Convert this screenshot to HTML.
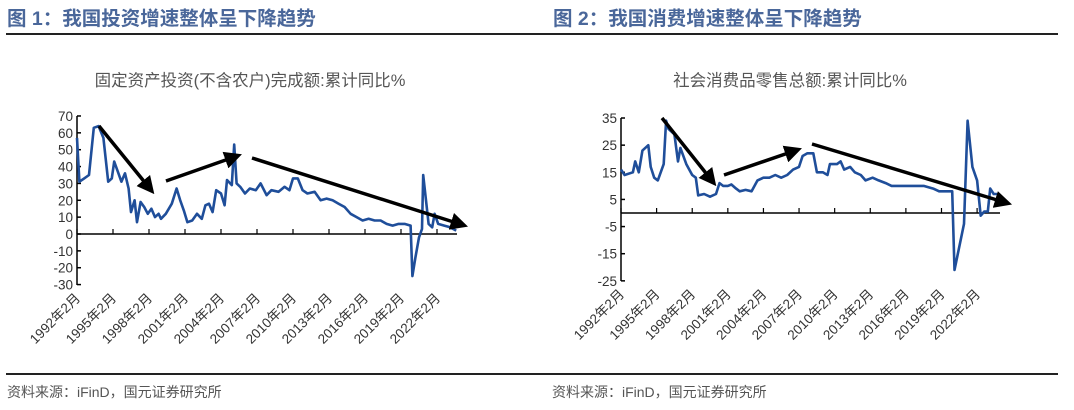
<!DOCTYPE html>
<html><head><meta charset="utf-8"><style>
body{margin:0;background:#fff;width:1074px;height:405px;overflow:hidden;font-family:"Liberation Sans","Noto Sans CJK SC",sans-serif}
</style></head><body>
<svg id="s" width="1074" height="405" xmlns="http://www.w3.org/2000/svg" font-family="Liberation Sans, Noto Sans CJK SC, sans-serif">
<defs><marker id="ah" markerWidth="5" markerHeight="5" refX="3.5" refY="2.5" orient="auto" markerUnits="strokeWidth"><path d="M0,0 L5,2.5 L0,5 z" fill="#000"/></marker></defs>
<g font-weight="bold" font-size="19.5" fill="#4a679a">
<text x="7" y="25">图 1：我国投资增速整体呈下降趋势</text>
<text x="553" y="25">图 2：我国消费增速整体呈下降趋势</text>
</g>
<line x1="6" y1="34" x2="540" y2="34" stroke="#222" stroke-width="2"/>
<line x1="540" y1="34" x2="1058" y2="34" stroke="#222" stroke-width="2"/>
<line x1="6" y1="374" x2="540" y2="374" stroke="#222" stroke-width="2"/>
<line x1="540" y1="374" x2="1058" y2="374" stroke="#222" stroke-width="2"/>
<g font-size="14" fill="#555"><text x="7" y="397">资料来源：iFinD，国元证券研究所</text><text x="552" y="397">资料来源：iFinD，国元证券研究所</text></g>
<g font-size="16.5" fill="#555" text-anchor="middle"><text x="250" y="86">固定资产投资(不含农户)完成额:累计同比%</text><text x="790" y="86">社会消费品零售总额:累计同比%</text></g>
<g id="g1"></g><g id="g2"></g>
</svg>
<script>
var NS="http://www.w3.org/2000/svg";
function el(p,t,a,txt){var e=document.createElementNS(NS,t);for(var k in a)e.setAttribute(k,a[k]);if(txt!=null)e.textContent=txt;p.appendChild(e);return e;}
function chart(g,ax,x0,dx,y0,sc,ticks,yEnd,yTop,xEnd,data,arrows){
 el(g,"line",{x1:ax,y1:yTop,x2:ax,y2:yEnd,stroke:"#000","stroke-width":1.5});
 el(g,"line",{x1:ax,y1:y0,x2:xEnd,y2:y0,stroke:"#000","stroke-width":1.5});
 ticks.forEach(function(v){var y=y0-v*sc;el(g,"line",{x1:ax,y1:y,x2:ax+4,y2:y,stroke:"#000","stroke-width":1.5});
  el(g,"text",{x:ax-4,y:y+5,"text-anchor":"end","font-size":"13.5",fill:"#333"},String(v));});
 for(var i=0;i<11;i++){var x=x0+i*3*dx;el(g,"line",{x1:x,y1:y0,x2:x,y2:y0-5,stroke:"#000","stroke-width":1.2});
  el(g,"text",{x:0,y:0,"text-anchor":"end","font-size":"13.5",fill:"#333",transform:"translate("+(x+4)+","+(yEnd+14)+") rotate(-45)"},(1992+3*i)+"年2月");}
 var pts=data.map(function(d){return (x0+(d[0]-1992)*dx).toFixed(1)+","+(y0-d[1]*sc).toFixed(1)}).join(" ");
 el(g,"polyline",{points:pts,fill:"none",stroke:"#1f4e9a","stroke-width":2.6,"stroke-linejoin":"round"});
 arrows.forEach(function(a){el(g,"line",{x1:a[0],y1:a[1],x2:a[2],y2:a[3],stroke:"#000","stroke-width":3.5,"marker-end":"url(#ah)"});});
}
var d1=[[1992,57],[1992.2,31],[1992.6,33],[1993,35],[1993.4,63],[1993.8,64],[1994.2,57],[1994.6,31],[1994.9,33],[1995.1,43],[1995.4,37],[1995.7,31],[1996,36],[1996.3,27],[1996.5,13],[1996.8,20],[1997,7],[1997.3,19],[1997.6,16],[1997.9,12],[1998.2,15],[1998.5,10],[1998.8,12],[1999,9],[1999.4,12],[1999.9,18],[2000.3,27],[2000.6,20],[2000.9,14],[2001.2,7],[2001.6,8],[2002,12],[2002.4,9],[2002.7,17],[2003,18],[2003.3,13],[2003.6,26],[2004,24],[2004.3,17],[2004.5,32],[2004.9,29],[2005.1,53],[2005.3,30],[2005.6,28],[2006,24],[2006.4,27],[2006.9,26],[2007.3,30],[2007.8,23],[2008.2,26],[2008.8,25],[2009.3,28],[2009.7,26],[2010,33],[2010.4,33],[2010.8,26],[2011.2,24],[2011.8,25],[2012.3,20],[2012.8,21],[2013.3,20],[2013.8,18],[2014.3,16],[2014.8,12],[2015.3,10],[2015.8,8],[2016.3,9],[2016.8,8],[2017.3,8],[2017.8,6],[2018.3,5],[2018.8,6],[2019.3,6],[2019.8,5],[2019.95,-25],[2020.2,-14],[2020.5,-2],[2020.75,3],[2020.85,35],[2021.3,6],[2021.6,4],[2021.8,12],[2022.1,6],[2022.6,5],[2023.1,4],[2023.6,2]];
chart(document.getElementById("g1"),77,77,12,234,1.686,[70,60,50,40,30,20,10,0,-10,-20,-30],285,116,457,d1,[[99,126,151,190],[166,181,237,156],[252,158,463,225]]);
var d2=[[1992,16],[1992.3,14],[1993,15],[1993.2,19],[1993.5,15],[1993.8,23],[1994.3,25],[1994.5,17],[1994.8,13],[1995.1,12],[1995.6,18],[1995.8,34],[1996,31],[1996.5,29],[1996.8,19],[1997,24],[1997.5,18],[1998,14],[1998.3,13],[1998.5,6.5],[1999,7],[1999.5,6],[2000,7],[2000.3,11],[2000.6,10],[2001,10],[2001.3,10.5],[2001.7,9],[2002,8],[2002.5,8.5],[2003,8],[2003.5,12],[2004,13],[2004.5,13],[2005,14],[2005.5,13],[2006,14],[2006.5,16],[2007,17],[2007.3,21],[2007.7,22],[2008.2,22],[2008.5,15],[2009,15],[2009.4,14],[2009.6,18],[2010.2,18],[2010.5,19],[2010.8,16],[2011.3,17],[2011.7,15],[2012.2,14],[2012.6,12],[2013.2,13],[2013.7,12],[2014.3,11],[2014.8,10],[2015.5,10],[2016.5,10],[2017.5,10],[2018.3,9],[2018.8,8],[2019.9,8],[2020.1,-21],[2020.9,-4],[2021.2,34],[2021.6,17],[2022,12],[2022.3,-1],[2022.6,0.5],[2022.9,0.5],[2023.1,9],[2023.4,7],[2023.7,7]];
chart(document.getElementById("g2"),621,621,11.87,213,2.714,[35,25,15,5,-5,-15,-25],281,118,1000,d2,[[662,118,713,182],[724,175,797,150],[812,144,1007,203]]);
</script>
</body></html>
